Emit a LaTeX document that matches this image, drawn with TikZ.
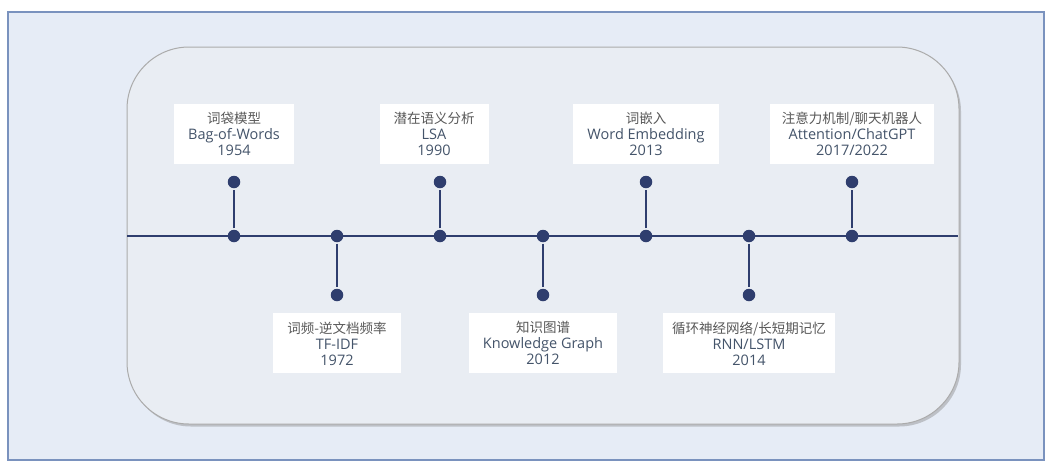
\documentclass[tikz,border=0pt]{standalone}
\usepackage{fontspec}
\setmainfont{Open Sans}
\newfontfamily\cjk{Noto Sans CJK SC}
\usetikzlibrary{positioning,shadows}

\definecolor{navy}{HTML}{2F3E6E}
\definecolor{frameblue}{HTML}{7A92BE}
\definecolor{backblue}{HTML}{E6ECF6}
\definecolor{panelfill}{HTML}{E9EDF3}
\definecolor{panelgray}{HTML}{ABABAB}
\definecolor{engblue}{HTML}{44546A}
\definecolor{zhgray}{HTML}{595959}

\newcommand{\milestone}[3]{{\color{zhgray}\cjk\fontsize{13.5}{16}\selectfont #1}\\#2\\#3}

\begin{document}
\begin{tikzpicture}[
                        x=1pt, y=-1pt,
                        node distance=103pt,
                        line width=2.6pt,
                        draw=navy
                    ]
                    \tikzstyle{dot}=[circle,fill=navy,draw=none,inner sep=0pt,minimum size=12.5pt]
                    \tikzstyle{era}=[fill=white,align=center,inner xsep=14pt,minimum height=60pt,
                                     text=engblue,font=\fontsize{14.5}{16}\selectfont]

                    \useasboundingbox (0,0) rectangle (1054,467);
                    \draw[line width=1.5pt,draw=frameblue,fill=backblue] (8,12) rectangle (1044,460);
                    \draw[line width=1pt,draw=panelgray,fill=panelfill,rounded corners=62pt,
                          drop shadow={shadow xshift=2pt,shadow yshift=-2.5pt,opacity=0.4}]
                          (127,47) rectangle (959,424);

                    % timeline
                    \coordinate (lstart) at (127,236);
                    \coordinate (lend)   at (958,236);
                    \draw (lstart) -- (lend);

                    \node[dot] (t1) at (234,236) {};
                    \node[dot] (t2) [right of=t1] {};
                    \node[dot] (t3) [right of=t2] {};
                    \node[dot] (t4) [right of=t3] {};
                    \node[dot] (t5) [right of=t4] {};
                    \node[dot] (t6) [right of=t5] {};
                    \node[dot] (t7) [right of=t6] {};

                    \node[dot] (e1) [above of=t1,node distance=54pt] {};
                    \node[dot] (e2) [below of=t2,node distance=59pt] {};
                    \node[dot] (e3) [above of=t3,node distance=54pt] {};
                    \node[dot] (e4) [below of=t4,node distance=59pt] {};
                    \node[dot] (e5) [above of=t5,node distance=54pt] {};
                    \node[dot] (e6) [below of=t6,node distance=59pt] {};
                    \node[dot] (e7) [above of=t7,node distance=54pt] {};

                    \draw (t1) -- (e1);
                    \draw (t2) -- (e2);
                    \draw (t3) -- (e3);
                    \draw (t4) -- (e4);
                    \draw (t5) -- (e5);
                    \draw (t6) -- (e6);
                    \draw (t7) -- (e7);

                    \node[era] (bow)  [above=9.5pt of e1] {\milestone{词袋模型}{Bag-of-Words}{1954}};
                    \node[era] (tfidf)[below=9.5pt of e2] {\milestone{词频-逆文档频率}{TF-IDF}{1972}};
                    \node[era] (lsa)  [above=9.5pt of e3,xshift=-6pt] {\milestone{潜在语义分析}{LSA}{1990}};
                    \node[era] (kg)   [below=9.5pt of e4] {\milestone{知识图谱}{Knowledge Graph}{2012}};
                    \node[era] (emb)  [above=9.5pt of e5] {\milestone{词嵌入}{Word Embedding}{2013}};
                    \node[era] (rnn)  [below=9.5pt of e6,inner xsep=9pt] {\milestone{循环神经网络/长短期记忆}{RNN/LSTM}{2014}};
                    \node[era] (attn) [above=9.5pt of e7,inner xsep=12pt] {\milestone{注意力机制/聊天机器人}{Attention/ChatGPT}{2017/2022}};
                \end{tikzpicture}
\end{document}
